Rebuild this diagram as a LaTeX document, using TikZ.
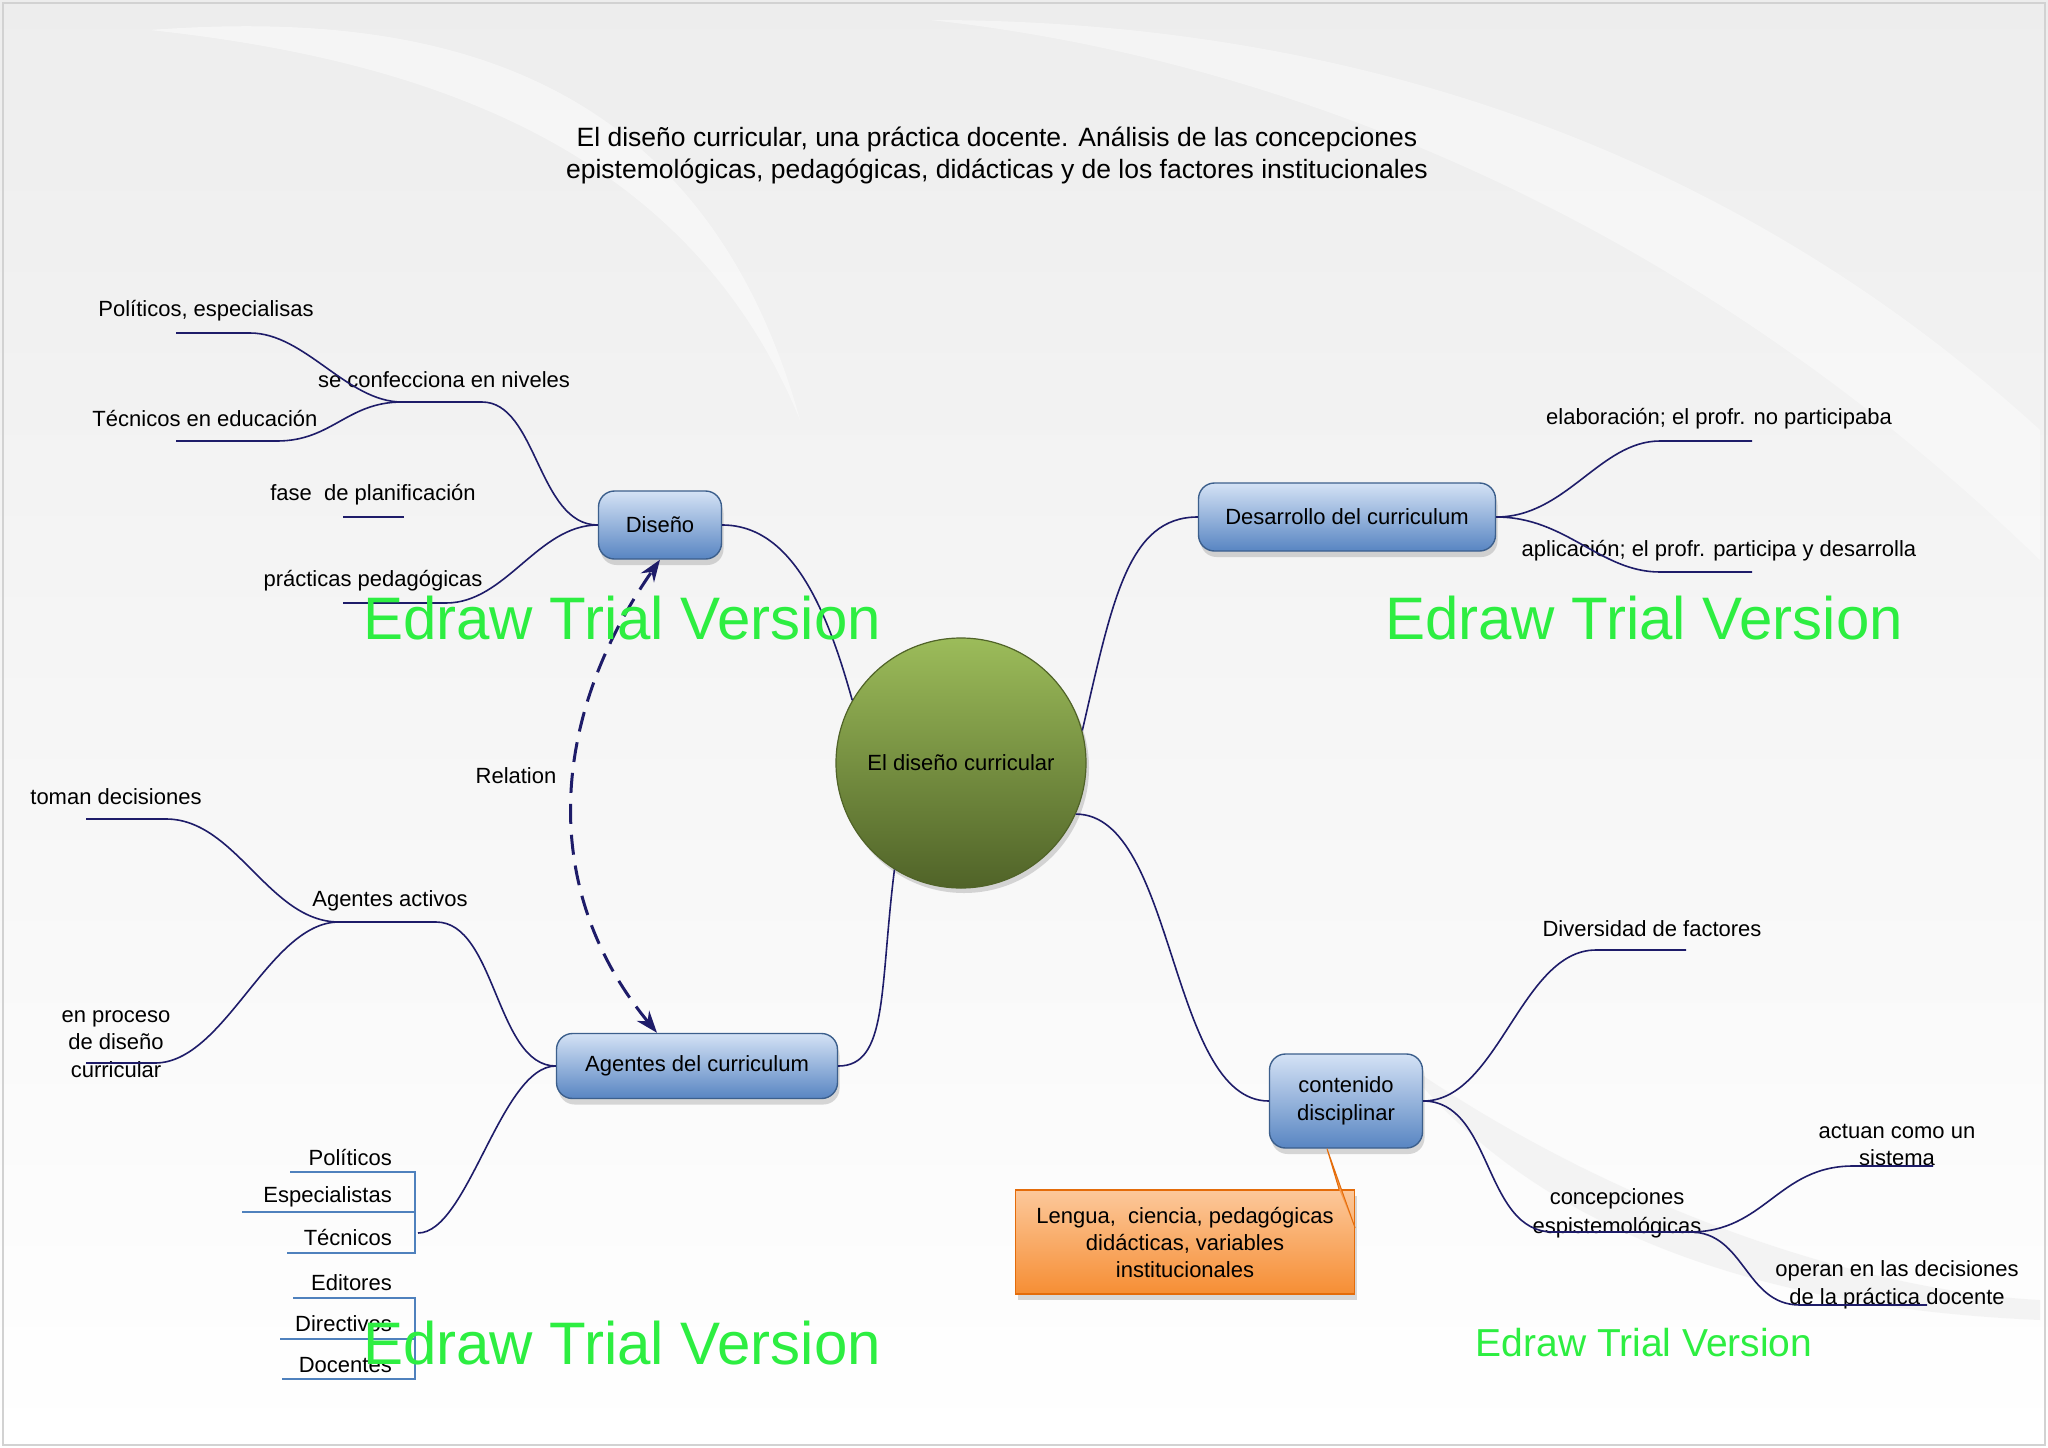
\documentclass[tikz,border=0pt]{standalone}
\usepackage{fontspec}
\setmainfont{Liberation Sans}
\usetikzlibrary{positioning,arrows.meta,shadows}

\definecolor{branchnavy}{RGB}{30,28,105}
\definecolor{boxtop}{RGB}{212,226,245}
\definecolor{boxbot}{RGB}{88,133,194}
\definecolor{boxedge}{RGB}{60,95,140}
\definecolor{olivetop}{RGB}{156,188,90}
\definecolor{olivebot}{RGB}{80,99,40}
\definecolor{notetop}{RGB}{252,200,155}
\definecolor{notebot}{RGB}{246,142,52}
\definecolor{noteedge}{RGB}{228,108,10}
\definecolor{bracketblue}{RGB}{79,129,189}
\definecolor{trialgreen}{RGB}{45,238,65}

\tikzset{
  topicbox/.style={draw=boxedge, line width=1.4pt, rounded corners=16pt, top color=boxtop, bottom color=boxbot, drop shadow={opacity=0.3, shadow xshift=2pt, shadow yshift=-6pt}, align=center, inner sep=0pt, font=\fontsize{22}{28}\selectfont},
  hubcircle/.style={circle, draw=olivebot, line width=1.2pt, top color=olivetop, bottom color=olivebot, minimum size=250pt, inner sep=0pt, drop shadow={opacity=0.3, shadow xshift=3pt, shadow yshift=-5pt}, font=\fontsize{22}{28}\selectfont},
  notebox/.style={draw=noteedge, line width=1.2pt, top color=notetop, bottom color=notebot, minimum width=339pt, minimum height=104pt, align=center, inner sep=0pt, drop shadow={opacity=0.3, shadow xshift=2pt, shadow yshift=-6pt}, font=\fontsize{22}{27}\selectfont},
  leaf/.style={inner sep=0pt, align=center, font=\fontsize{22}{28}\selectfont},
  branch/.style={draw=branchnavy, line width=1.6pt},
  bracketline/.style={draw=bracketblue, line width=1.4pt},
  relarrow/.style={{Stealth[length=22pt,width=16pt]}-{Stealth[length=22pt,width=16pt]}, draw=branchnavy, line width=3pt, dash pattern=on 20pt off 11pt},
  trialmark/.style={text=trialgreen, inner sep=0pt, font=\fontsize{60}{60}\selectfont}
}

\begin{document}
\begin{tikzpicture}[x=1pt, y=-1pt]
  \useasboundingbox (0,0) rectangle (2048,1448);
  % background
  \shade[top color=gray!14, bottom color=white] (0,0) rectangle (2048,1448);
  \fill[white, opacity=0.45] (150,30) .. controls (420,10) and (700,60) .. (800,420) .. controls (690,150) and (430,60) .. (150,30);
  \fill[white, opacity=0.4] (930,20) .. controls (1300,20) and (1700,120) .. (2040,430) -- (2040,560) .. controls (1700,230) and (1300,60) .. (930,20);
  \fill[gray!12, opacity=0.7] (1400,1060) .. controls (1600,1200) and (1850,1290) .. (2040,1300) -- (2040,1320) .. controls (1800,1310) and (1550,1250) .. (1400,1060);
  \draw[gray!35, line width=1.2pt] (3,3) rectangle (2045,1445);

  \node[leaf, font=\fontsize{26.5}{32}\selectfont] (title) at (997,155) {El diseño curricular, una práctica docente. Análisis de las concepciones\\epistemológicas, pedagógicas, didácticas y de los factores institucionales};

  % main topics
  \node[hubcircle] (hub) at (961,763) {El diseño curricular};
  \node[topicbox, minimum width=123pt, minimum height=68pt] (diseno) at (660,525) {Diseño};
  \node[topicbox, minimum width=297pt, minimum height=68pt] (desarrollo) at (1347,517) {Desarrollo del curriculum};
  \node[topicbox, minimum width=281pt, minimum height=65pt] (agentes) at (697,1066) {Agentes del curriculum};
  \node[topicbox, minimum width=153pt, minimum height=94pt] (contenido) at (1346,1101) {contenido\\disciplinar};
  \node[notebox] (note) at (1185,1242) {Lengua,~~ciencia, pedagógicas\\didácticas, variables\\institucionales};
  \coordinate (notetip) at ([xshift=-19pt]contenido.south);
  \filldraw[fill=notebot!75!notetop, draw=noteedge, line width=1pt] ([xshift=-16pt]note.north east) -- (notetip) -- ([yshift=14pt]note.east);

  \draw[branch] (hub.150) .. controls +(-25,-90) and +(70,0) .. (diseno.east);
  \draw[branch] (hub.15) .. controls +(30,-130) and +(-70,0) .. (desarrollo.west);
  \draw[branch] (hub.238) .. controls +(-15,120) and +(50,0) .. (agentes.east);
  \draw[branch] (hub.336) .. controls +(100,0) and +(-100,0) .. (contenido.west);

  % Diseño
  \node[leaf] (politicosesp) at (206,311) {Políticos, especialisas};
  \node[leaf] (confecciona) at (444,380) {se confecciona en niveles};
  \node[leaf] (tecnicosedu) at (205,419) {Técnicos en educación};
  \node[leaf] (fase) at (373,495) {fase~~de planificación};
  \node[leaf] (practicas) at (373,581) {prácticas pedagógicas};
  \coordinate (confjunc) at (402,402);
  \coordinate (confend) at (482,402);
  \coordinate (polbend) at (250,333);
  \coordinate (polstart) at (176,333);
  \coordinate (tecbend) at (277,441);
  \coordinate (tecstart) at (176,441);
  \coordinate (fasea) at (343,517);
  \coordinate (faseb) at (404,517);
  \coordinate (pracbend) at (446,603);
  \coordinate (pracstart) at (343,603);
  \draw[branch] (diseno.west) .. controls +(-60,0) and +(55,0) .. (confend) -- (confjunc);
  \draw[branch] (confjunc) .. controls +(-55,0) and +(55,0) .. (polbend) -- (polstart);
  \draw[branch] (confjunc) .. controls +(-55,0) and +(55,0) .. (tecbend) -- (tecstart);
  \draw[branch] (fasea) -- (faseb);
  \draw[branch] (diseno.west) .. controls +(-60,0) and +(60,0) .. (pracbend) -- (pracstart);

  % Desarrollo
  \node[leaf] (elaboracion) at (1719,419) {elaboración; el profr. no participaba};
  \node[leaf] (aplicacion) at (1719,551) {aplicación; el profr. participa y desarrolla};
  \coordinate (elabstart) at (1660,441);
  \coordinate (elabend) at (1752,441);
  \coordinate (aplstart) at (1660,572);
  \coordinate (aplend) at (1752,572);
  \draw[branch] (desarrollo.east) .. controls +(70,0) and +(-60,0) .. (elabstart) -- (elabend);
  \draw[branch] (desarrollo.east) .. controls +(70,0) and +(-60,0) .. (aplstart) -- (aplend);

  % Agentes
  \node[leaf] (toman) at (116,797) {toman decisiones};
  \node[leaf] (activos) at (390,901) {Agentes activos};
  \node[leaf, font=\fontsize{22}{27.5}\selectfont] (proceso) at (116,1044) {en proceso\\de diseño\\curricular};
  \coordinate (activosjunc) at (339,922);
  \coordinate (activosend) at (436,922);
  \coordinate (tomanbend) at (166,819);
  \coordinate (tomanstart) at (86,819);
  \coordinate (procbend) at (155,1063);
  \coordinate (procstart) at (86,1063);
  \draw[branch] (agentes.west) .. controls +(-60,0) and +(60,0) .. (activosend) -- (activosjunc);
  \draw[branch] (activosjunc) .. controls +(-70,0) and +(70,0) .. (tomanbend) -- (tomanstart);
  \draw[branch] (activosjunc) .. controls +(-70,0) and +(70,0) .. (procbend) -- (procstart);

  \coordinate (brackjoin) at (418,1233);
  \draw[branch] (agentes.west) .. controls +(-55,0) and +(50,0) .. (brackjoin);
  \node[leaf, anchor=east] (politicos) at (392,1157) {Políticos};
  \node[leaf, anchor=east] (especialistas) at (392,1197) {Especialistas};
  \node[leaf, anchor=east] (tecnicos) at (392,1237) {Técnicos};
  \node[leaf, anchor=east] (editores) at (392,1283) {Editores};
  \node[leaf, anchor=east] (directivos) at (392,1324) {Directivos};
  \node[leaf, anchor=east] (docentes) at (392,1365) {Docentes};
  \draw[bracketline] (290,1172) -- (415,1172) -- (415,1253) -- (287,1253);
  \draw[bracketline] (242,1212) -- (415,1212);
  \draw[bracketline] (293,1298) -- (415,1298) -- (415,1379) -- (282,1379);
  \draw[bracketline] (280,1339) -- (415,1339);

  % contenido
  \node[leaf] (diversidad) at (1652,929) {Diversidad de factores};
  \node[leaf, font=\fontsize{22}{29}\selectfont] (concepciones) at (1617,1213) {concepciones\\espistemológicas};
  \node[leaf, font=\fontsize{22}{27}\selectfont] (actuan) at (1897,1145) {actuan como un\\sistema};
  \node[leaf, font=\fontsize{22}{28}\selectfont] (operan) at (1897,1285) {operan en las decisiones\\de la práctica docente};
  \coordinate (divstart) at (1596,950);
  \coordinate (divend) at (1686,950);
  \coordinate (concstart) at (1553,1232);
  \coordinate (concjunc) at (1690,1232);
  \coordinate (actstart) at (1853,1166);
  \coordinate (actend) at (1933,1166);
  \coordinate (opstart) at (1800,1305);
  \coordinate (opend) at (1927,1305);
  \draw[branch] (contenido.east) .. controls +(75,0) and +(-75,0) .. (divstart) -- (divend);
  \draw[branch] (contenido.east) .. controls +(70,0) and +(-70,0) .. (concstart) -- (concjunc);
  \draw[branch] (concjunc) .. controls +(75,0) and +(-75,0) .. (actstart) -- (actend);
  \draw[branch] (concjunc) .. controls +(55,0) and +(-55,0) .. (opstart) -- (opend);

  % relation
  \draw[relarrow] ([xshift=-40pt]agentes.north) .. controls +(-117,-142) and +(-112,161) .. (diseno.south);
  \node[leaf] (relation) at (516,776) {Relation};

  \node[trialmark] (trial1) at (622,618) {Edraw Trial Version};
  \node[trialmark] (trial2) at (1644,618) {Edraw Trial Version};
  \node[trialmark] (trial3) at (622,1343) {Edraw Trial Version};
  \node[trialmark, font=\fontsize{39}{39}\selectfont] (trial4) at (1644,1343) {Edraw Trial Version};
\end{tikzpicture}
\end{document}
